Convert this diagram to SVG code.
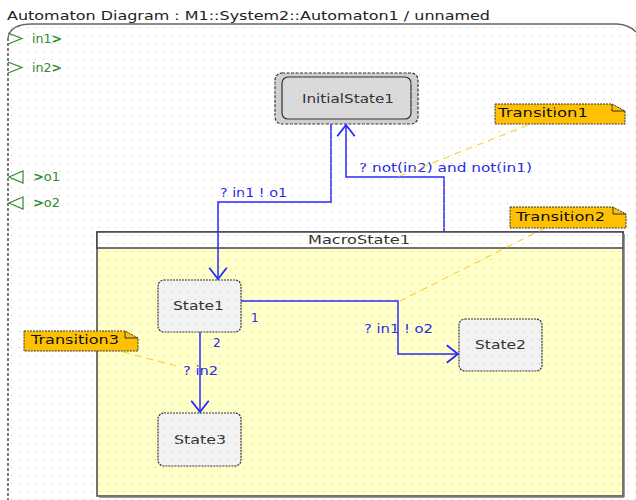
<svg xmlns="http://www.w3.org/2000/svg" width="636" height="500" viewBox="0 0 636 500">
<defs>
<pattern id="dots" x="0" y="0" width="8" height="8" patternUnits="userSpaceOnUse">
<rect x="3" y="3" width="1" height="1" fill="#c4c4c4"/>
</pattern>
<marker id="arr" markerUnits="userSpaceOnUse" markerWidth="20" markerHeight="20" viewBox="-10 -8 12 16" refX="0" refY="0" orient="auto">
<path d="M-9,-7 L0,0 L-9,7" fill="none" stroke="#2a2aff" stroke-width="1.5"/>
</marker>
<style>
.t{font-family:"DejaVu Sans","Liberation Sans",sans-serif;}
.st{fill:#f2f2f2;stroke:#333;stroke-width:1.2;stroke-dasharray:2 1;}
.sn{font-family:"DejaVu Sans","Liberation Sans",sans-serif;font-size:12px;fill:#333;}
.note{fill:#ffc000;stroke:#333;stroke-width:1;stroke-dasharray:2 1;}
.nt{font-family:"DejaVu Sans","Liberation Sans",sans-serif;font-size:12px;fill:#111;}
.nl{stroke:#ffd040;stroke-width:1.2;stroke-dasharray:7 5;fill:none;}
.c{fill:none;stroke:#2a2aff;stroke-width:1.5;}
.cl{font-family:"DejaVu Sans","Liberation Sans",sans-serif;font-size:12px;fill:#2a2ae0;}
.port{fill:none;stroke:#2e8b2e;stroke-width:1.2;}
.pt{font-family:"DejaVu Sans","Liberation Sans",sans-serif;font-size:12px;fill:#2e8b2e;}
</style>
</defs>
<rect width="636" height="500" fill="#fff"/>

<g id="frame">
<text class="t" x="7" y="20" font-size="12" fill="#222" textLength="483" lengthAdjust="spacingAndGlyphs">Automaton Diagram : M1::System2::Automaton1 / unnamed</text>
<path d="M8,38 Q10,24 32,24 L617,24 Q630,25 636,32" fill="none" stroke="#666" stroke-width="1.3"/>
<line x1="8" y1="38" x2="8" y2="500" stroke="#333" stroke-width="1.3" stroke-dasharray="3 2"/>
</g>

<g id="ports">
<g id="in1"><path class="port" d="M8,33 L22,38.5 L8,44"/><text class="pt" x="32" y="43" textLength="30" lengthAdjust="spacingAndGlyphs">in1<tspan font-weight="bold">&gt;</tspan></text></g>
<g id="in2"><path class="port" d="M8,62 L22,67.5 L8,73"/><text class="pt" x="32" y="72" textLength="30" lengthAdjust="spacingAndGlyphs">in2<tspan font-weight="bold">&gt;</tspan></text></g>
<g id="o1"><path class="port" d="M23,171 L9,177 L23,183 Z"/><text class="pt" x="33" y="181" textLength="27" lengthAdjust="spacingAndGlyphs"><tspan font-weight="bold">&gt;</tspan>o1</text></g>
<g id="o2"><path class="port" d="M23,197 L9,203 L23,209 Z"/><text class="pt" x="33" y="207" textLength="27" lengthAdjust="spacingAndGlyphs"><tspan font-weight="bold">&gt;</tspan>o2</text></g>
</g>

<g id="MacroState1">
<rect x="97" y="232" width="526" height="264" fill="#ffffc8" stroke="#444" stroke-width="1.5"/>
<rect x="97" y="232" width="526" height="16" fill="#fff" stroke="#444" stroke-width="1.5"/>
<line x1="624" y1="234" x2="624" y2="497" stroke="#777" stroke-width="1.5"/>
<line x1="99" y1="497" x2="624" y2="497" stroke="#777" stroke-width="1.5"/>
<text class="sn" x="308" y="244" textLength="102" lengthAdjust="spacingAndGlyphs">MacroState1</text>
</g>

<g id="InitialState1">
<rect x="275" y="73" width="143" height="51" rx="7" fill="#d0d0d0" stroke="#333" stroke-width="1.2" stroke-dasharray="3 1.5"/>
<rect x="282" y="77" width="129" height="42" rx="6" fill="#dadada" stroke="#333" stroke-width="1.2"/>
<text class="sn" x="302" y="103" textLength="92" lengthAdjust="spacingAndGlyphs">InitialState1</text>
</g>

<g id="State1">
<rect class="st" x="158" y="280" width="83" height="52" rx="6"/>
<text class="sn" x="173" y="310" textLength="51" lengthAdjust="spacingAndGlyphs">State1</text>
</g>
<g id="State2">
<rect class="st" x="459" y="319" width="83" height="52" rx="6"/>
<text class="sn" x="475" y="349" textLength="51" lengthAdjust="spacingAndGlyphs">State2</text>
</g>
<g id="State3">
<rect class="st" x="158" y="413" width="83" height="53" rx="6"/>
<text class="sn" x="174" y="444" textLength="52" lengthAdjust="spacingAndGlyphs">State3</text>
</g>

<g id="connectors">
<path class="c" d="M331,124 V202 H218 V279" marker-end="url(#arr)"/>
<path class="c" d="M444,232 V177 H346 V125" marker-end="url(#arr)"/>
<path class="c" d="M241,301 H398 V354 H458" marker-end="url(#arr)"/>
<path class="c" d="M200,332 V412" marker-end="url(#arr)"/>
<text class="cl" x="220" y="197" textLength="67" lengthAdjust="spacingAndGlyphs">? in1 ! o1</text>
<text class="cl" x="359" y="172" textLength="173" lengthAdjust="spacingAndGlyphs">? not(in2) and not(in1)</text>
<text class="cl" x="364" y="333" textLength="69" lengthAdjust="spacingAndGlyphs">? in1 ! o2</text>
<text class="cl" x="251" y="322">1</text>
<text class="cl" x="213" y="347">2</text>
<text class="cl" x="183" y="375" textLength="35" lengthAdjust="spacingAndGlyphs">? in2</text>
<line class="nl" x1="528" y1="125" x2="397" y2="177"/>
<line class="nl" x1="545" y1="228" x2="400" y2="301"/>
<line class="nl" x1="123" y1="352" x2="180" y2="367"/>
</g>

<g id="Transition1">
<path class="note" d="M495,104 H612 L625,111 V124 H495 Z"/>
<path d="M612,104 V111 H625" fill="none" stroke="#333" stroke-width="1"/>
<text class="nt" x="498" y="117" textLength="90" lengthAdjust="spacingAndGlyphs">Transition1</text>
</g>
<g id="Transition2">
<path class="note" d="M510,207 H613 L626,214 V228 H510 Z"/>
<path d="M613,207 V214 H626" fill="none" stroke="#333" stroke-width="1"/>
<text class="nt" x="516" y="221" textLength="89" lengthAdjust="spacingAndGlyphs">Transition2</text>
</g>
<g id="Transition3">
<path class="note" d="M24,331 H125 L138,338 V351 H24 Z"/>
<path d="M125,331 V338 H138" fill="none" stroke="#333" stroke-width="1"/>
<text class="nt" x="31" y="344" textLength="88" lengthAdjust="spacingAndGlyphs">Transition3</text>
</g>

<rect x="9" y="25" width="627" height="475" fill="url(#dots)" pointer-events="none"/>
</svg>
